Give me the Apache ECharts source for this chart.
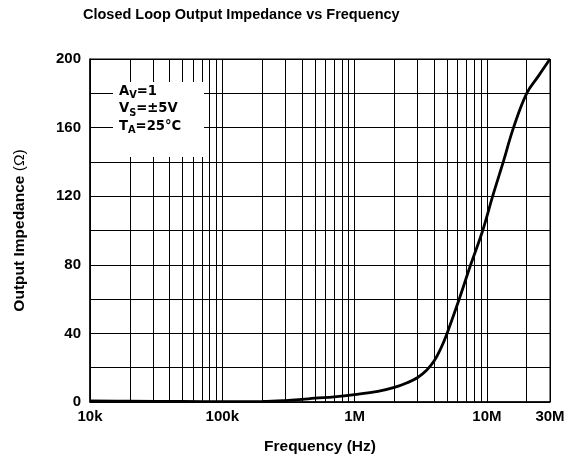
<!DOCTYPE html>
<html>
<head>
<meta charset="utf-8">
<script src="https://cdn.jsdelivr.net/npm/echarts@6/dist/echarts.min.js"></script>
<style>
html,body{margin:0;padding:0;background:#fff;}
#chart{width:570px;height:460px;}
</style>
</head>
<body>
<div id="chart"></div>
<script>
// ---- data ----
var freqHz = [1e4, 2e4, 5e4, 1e5, 2e5, 3e5, 4e5, 5e5, 7e5, 1e6, 1.5e6, 2e6, 2.5e6, 3e6, 3.5e6, 4e6, 4.5e6, 5e6, 6.18e6, 7.54e6, 9.3e6, 1.106e7, 1.33e7, 1.59e7, 2e7, 2.45e7, 3e7];
var impedanceOhm = [0.6, 0.5, 0.3, 0.2, 0.3, 0.8, 1.5, 2.2, 3.0, 4.3, 6.2, 8.5, 11.2, 14.3, 18.5, 24, 31.5, 40, 60, 80, 100, 120, 140, 160, 180, 190, 200];
var xTickValues = [1e4, 1e5, 1e6, 1e7, 3e7];
var xTickLabels = ['10k', '100k', '1M', '10M', '30M'];
var xMinorGrid = [2e4,3e4,4e4,5e4,6e4,7e4,8e4,9e4, 2e5,3e5,4e5,5e5,6e5,7e5,8e5,9e5, 2e6,3e6,4e6,5e6,6e6,7e6,8e6,9e6, 2e7];
var yTickLabels = [0, 40, 80, 120, 160, 200];
var titleText = 'Closed Loop Output Impedance vs Frequency';
var xName = 'Frequency (Hz)';
var yNameMain = 'Output Impedance ';
var yNameUnit = '(\u03A9)';
var noteLines = [['A', 'V', '=1'], ['V', 'S', '=\u00B15V'], ['T', 'A', '=25\u00B0C']];

var FONT = '"Liberation Sans", Arial, Helvetica, sans-serif';
var NOTEFONT = '"DejaVu Sans", "Liberation Sans", sans-serif';
var chart = echarts.init(document.getElementById('chart'), null, {renderer: 'canvas'});

var noteText = noteLines.map(function (l) {
  return '{b|' + l[0] + '}{s|' + l[1] + '}{b|' + l[2] + '}';
}).join('\n');

var option = {
  animation: false,
  backgroundColor: '#fff',
  textStyle: {fontFamily: FONT},
  title: {
    text: titleText,
    left: 78, top: 2,
    textStyle: {fontFamily: FONT, fontWeight: 'bold', fontSize: 14.5, color: '#000'}
  },
  grid: {left: 90, right: 20, top: 59, bottom: 56, show: true, borderColor: '#000', borderWidth: 1, containLabel: false},
  xAxis: {
    type: 'log', logBase: 10, min: 1e4, max: 3e7,
    name: xName, nameLocation: 'middle', nameGap: 37,
    nameTextStyle: {fontFamily: FONT, fontWeight: 'bold', fontSize: 15.5, color: '#000'},
    axisLine: {show: true, lineStyle: {color: '#000', width: 1.5}},
    axisTick: {show: false},
    splitLine: {show: true, lineStyle: {color: '#000', width: 1}},
    axisLabel: {
      color: '#000', fontFamily: FONT, fontWeight: 'bold', fontSize: 15, margin: 7,
      formatter: function (v) {
        for (var i = 0; i < xTickValues.length; i++) {
          if (Math.abs(v - xTickValues[i]) / xTickValues[i] < 1e-6) return xTickLabels[i];
        }
        return '';
      }
    }
  },
  yAxis: {
    type: 'value', min: 0, max: 200, interval: 20,
    name: '{b|' + yNameMain + '}{n|' + yNameUnit + '}', nameLocation: 'middle', nameGap: 62, nameRotate: 90,
    nameTextStyle: {
      fontFamily: FONT, fontWeight: 'bold', fontSize: 15.5, color: '#000',
      rich: {
        b: {fontFamily: FONT, fontWeight: 'bold', fontSize: 15.5, color: '#000'},
        n: {fontFamily: FONT, fontWeight: 'normal', fontSize: 15.5, color: '#000'}
      }
    },
    axisLine: {show: true, lineStyle: {color: '#000', width: 1.5}},
    axisTick: {show: false},
    splitLine: {show: true, lineStyle: {color: '#000', width: 1}},
    axisLabel: {
      color: '#000', fontFamily: FONT, fontWeight: 'bold', fontSize: 15, margin: 9,
      formatter: function (v) { return yTickLabels.indexOf(v) >= 0 ? String(v) : ''; }
    }
  },
  graphic: [
    {type: 'rect', z: 100, silent: true, shape: {x: 113, y: 82, width: 91, height: 75}, style: {fill: '#fff'}},
    {type: 'text', z: 101, silent: true, x: 119, y: 82.5,
      style: {
        text: noteText, fill: '#000',
        rich: {
          b: {fontFamily: NOTEFONT, fontWeight: 'bold', fontSize: 13.2, lineHeight: 17.7, fill: '#000'},
          s: {fontFamily: NOTEFONT, fontWeight: 'bold', fontSize: 9.8, lineHeight: 10, padding: [8, 0, 0, 0], fill: '#000'}
        }
      }
    }
  ],
  series: [
    {
      type: 'line', name: 'grid', data: [], silent: true, z: 1,
      markLine: {
        silent: true, symbol: 'none', label: {show: false}, animation: false,
        lineStyle: {color: '#000', width: 1, type: 'solid'},
        emphasis: {disabled: true},
        data: xMinorGrid.map(function (f) { return {xAxis: f}; })
      }
    },
    {
      type: 'line', name: 'Zout', z: 5,
      data: freqHz.map(function (f, i) { return [f, impedanceOhm[i]]; }),
      smooth: 0.4, showSymbol: false, symbol: 'none',
      lineStyle: {color: '#000', width: 2.8}
    }
  ]
};
chart.setOption(option);
</script>
</body>
</html>
